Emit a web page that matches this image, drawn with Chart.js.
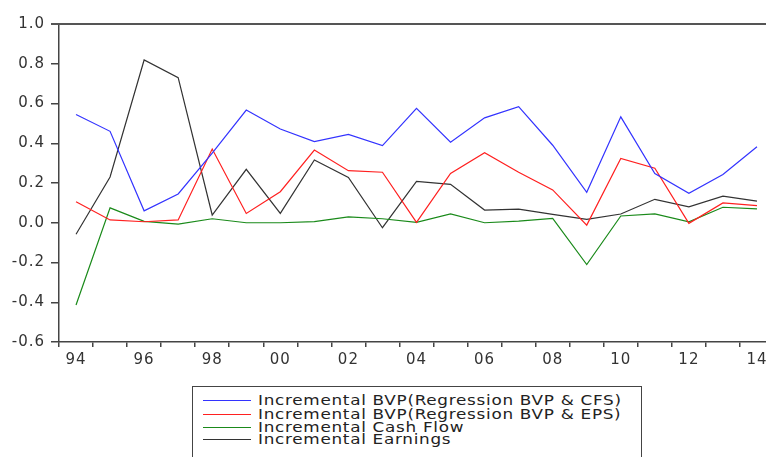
<!DOCTYPE html>
<html>
<head>
<meta charset="utf-8">
<script src="https://cdn.jsdelivr.net/npm/chart.js@4"></script>
<style>
  html, body { margin: 0; padding: 0; background: #fff; overflow: hidden; }
  #wrap { position: relative; width: 766px; height: 457px; overflow: hidden; }
  #chartBox { position: absolute; left: 0; top: 0; width: 774px; height: 382px; }
  #legend {
    position: absolute; left: 192px; top: 386px; width: 450px; height: 80px;
    border: 1px solid #444; box-sizing: border-box;
    font-family: "DejaVu Sans", sans-serif; font-size: 14px; color: #222; letter-spacing: 0.6px;
  }
  .row { position: absolute; left: 0; height: 14px; line-height: 14px; white-space: nowrap; }
  .swatch { position: absolute; left: 10px; top: 7px; width: 48px; height: 1px; }
  .name { position: absolute; left: 65px; top: 0; transform: scaleX(1.2); transform-origin: 0 50%; }
</style>
</head>
<body>
<div id="wrap">
  <div id="chartBox"><canvas id="chart"></canvas></div>
  <div id="legend"></div>
</div>
<script>
// years 1994 - 2014
const years = ['94','95','96','97','98','99','00','01','02','03','04','05','06','07','08','09','10','11','12','13','14']

const bvpCfs = [0.545, 0.46, 0.06, 0.145, 0.35, 0.567, 0.472, 0.408, 0.445, 0.388, 0.576, 0.405, 0.528, 0.584, 0.39, 0.153, 0.533, 0.248, 0.148, 0.243, 0.382]
const bvpEps = [0.106, 0.014, 0.005, 0.014, 0.371, 0.047, 0.156, 0.366, 0.262, 0.254, 0.002, 0.248, 0.352, 0.254, 0.165, -0.012, 0.324, 0.274, -0.003, 0.1, 0.086]
const cashFlow = [-0.414, 0.075, 0.007, -0.007, 0.02, 0.0, 0.0, 0.006, 0.03, 0.02, 0.002, 0.045, 0.0, 0.008, 0.022, -0.21, 0.034, 0.045, 0.005, 0.078, 0.07]
const earnings = [-0.058, 0.23, 0.819, 0.73, 0.039, 0.269, 0.047, 0.316, 0.228, -0.025, 0.208, 0.193, 0.064, 0.069, 0.042, 0.017, 0.044, 0.118, 0.08, 0.134, 0.109]

const seriesNames = [
    'Incremental BVP(Regression BVP & CFS)',
    'Incremental BVP(Regression BVP & EPS)',
    'Incremental Cash Flow',
    'Incremental Earnings'
]
const seriesColors = ['#3333ff', '#ff2020', '#1a8a1a', '#333333']
const seriesData = [bvpCfs, bvpEps, cashFlow, earnings]

const axisColor = '#444'
const tickFont = { family: 'DejaVu Sans', size: 15 }

// wider letters + top frame line like the original
const frameLine = {
    id: 'frameLine',
    beforeDraw(chart) {
        chart.ctx.letterSpacing = '1px'
    },
    afterDraw(chart) {
        const ctx = chart.ctx
        const area = chart.chartArea
        ctx.save()
        ctx.strokeStyle = '#555'
        ctx.lineWidth = 2
        ctx.beginPath()
        ctx.moveTo(area.left - 8, area.top)
        ctx.lineTo(area.right, area.top)
        ctx.stroke()
        ctx.restore()
    }
}

const chart = new Chart(document.getElementById('chart'), {
    type: 'line',
    data: {
        labels: years,
        datasets: seriesData.map((d, i) => ({
            label: seriesNames[i],
            data: d,
            borderColor: seriesColors[i],
            backgroundColor: seriesColors[i],
            borderWidth: 1.2,
            pointRadius: 0,
            tension: 0
        }))
    },
    options: {
        responsive: true,
        maintainAspectRatio: false,
        animation: false,
        layout: { padding: { top: 24, right: 0, left: 0, bottom: 0 } },
        plugins: { legend: { display: false }, tooltip: { enabled: false } },
        scales: {
            x: {
                offset: true,
                grid: { offset: true, drawOnChartArea: false, drawTicks: true, tickLength: 5, color: axisColor, lineWidth: 1.5 },
                border: { color: axisColor, width: 1.5 },
                ticks: {
                    autoSkip: false, maxRotation: 0, padding: 4,
                    color: '#333', font: tickFont,
                    callback: (v, i) => i % 2 === 0 ? years[i] : ''
                },
                afterFit: s => { s.height = 40 }
            },
            y: {
                min: -0.6, max: 1.0,
                grid: { drawOnChartArea: false, drawTicks: true, tickLength: 8, color: axisColor, lineWidth: 1.5 },
                border: { color: axisColor, width: 1.5 },
                ticks: {
                    stepSize: 0.2, padding: 6,
                    color: '#333', font: tickFont,
                    callback: v => v.toFixed(1)
                },
                afterFit: s => { s.width = 59 }
            }
        }
    },
    plugins: [frameLine]
})

// html legend, rows at fixed heights
const legend = document.getElementById('legend')
const rowTops = [6, 20, 33, 45]
seriesNames.forEach((name, i) => {
    const row = document.createElement('div')
    row.className = 'row'
    row.style.top = rowTops[i] + 'px'
    row.innerHTML = `<span class="swatch" style="background:${seriesColors[i]}"></span><span class="name">${name.replace(/&/g, '&amp;')}</span>`
    legend.appendChild(row)
})
</script>
</body>
</html>
